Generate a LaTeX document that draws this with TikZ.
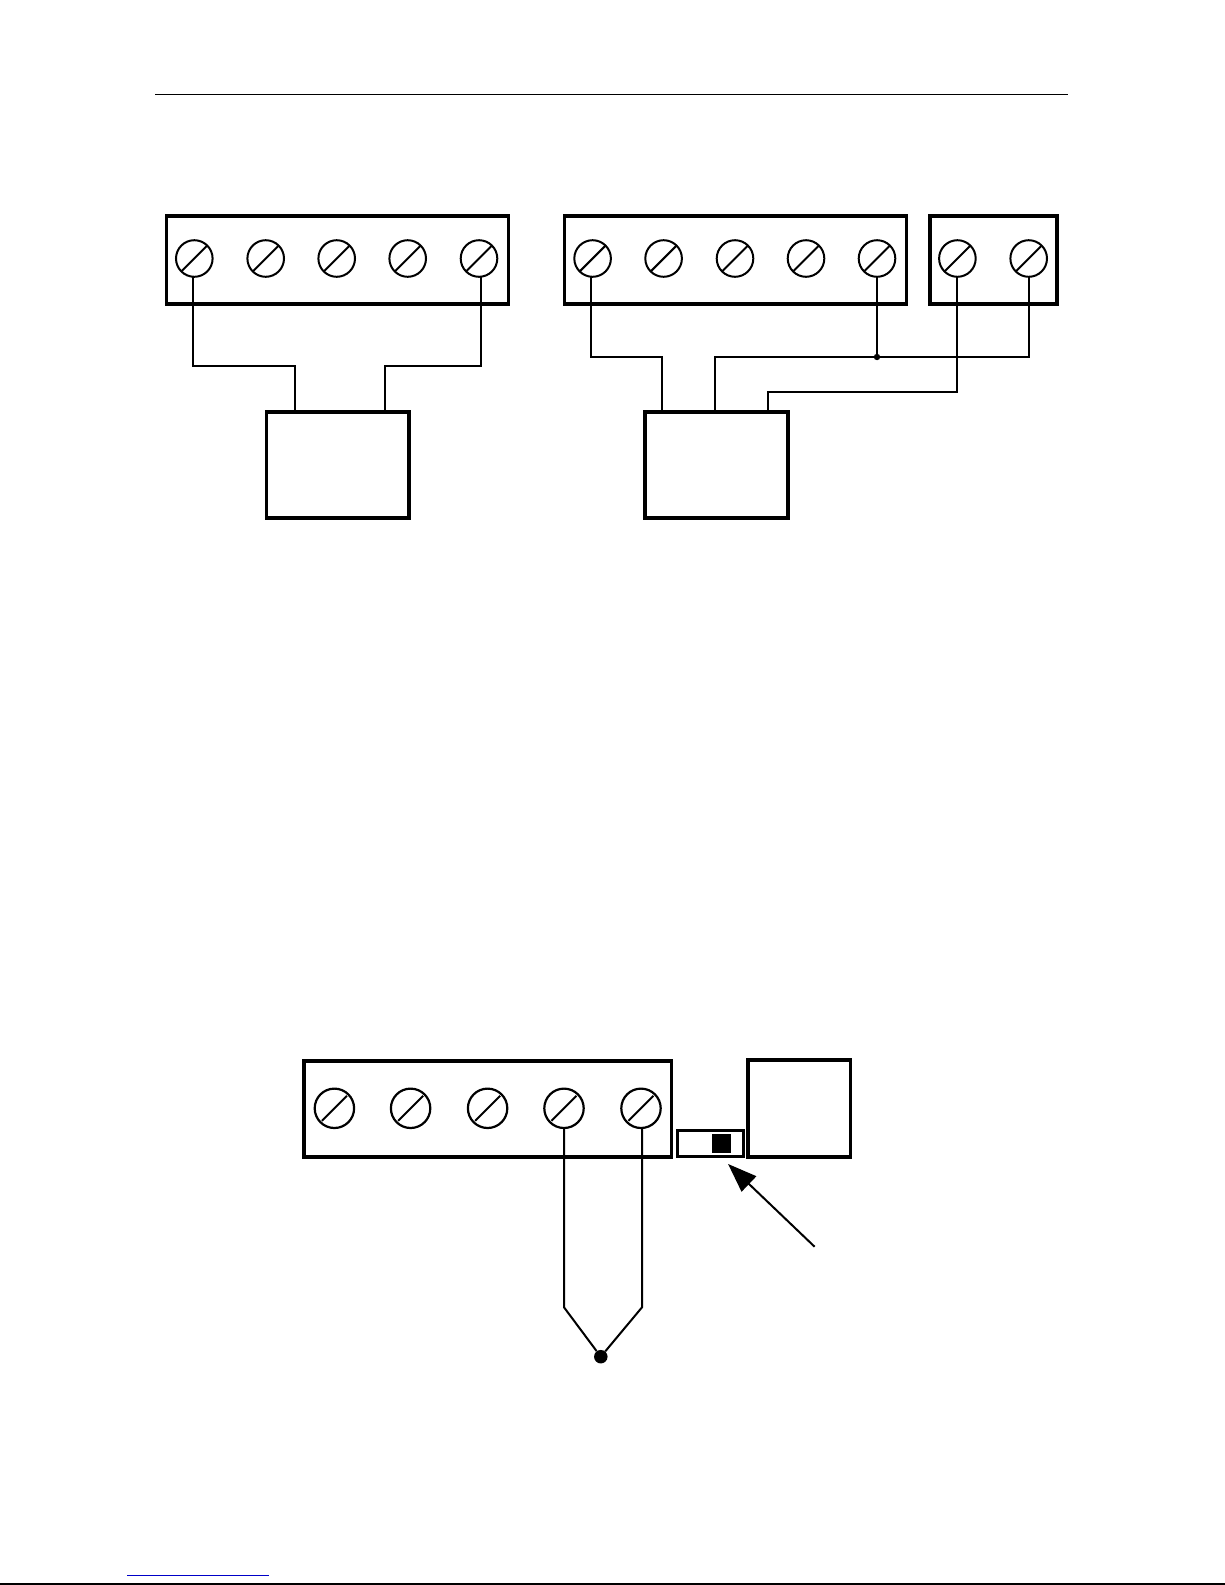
\documentclass[tikz,border=0pt]{standalone}
\usepackage{amsmath,amssymb}
\usetikzlibrary{arrows.meta}

\definecolor{linkblue}{RGB}{0,0,200}

\begin{document}
\begin{tikzpicture}
	[
	x=1pt, y=-1pt,
	block/.style={draw, line width=3.6pt, outer sep=0pt, inner sep=0pt, anchor=north west},
	screwbig/.style={draw, circle, line width=2pt, outer sep=0pt, inner sep=0pt, minimum size=36.6pt,
		path picture={\draw[line width=2pt] ([shift={(-12.5pt,-12.5pt)}]path picture bounding box.center) -- ([shift={(12.5pt,12.5pt)}]path picture bounding box.center);}},
	wire/.style={draw, line width=2pt},
	]
		\useasboundingbox (0,0) rectangle (1225,1585);
		
		% page rules
		\coordinate (hl) at (155,94.3);
		\coordinate (hr) at (1067.7,94.3);
		\coordinate (fl) at (127,1575.3);
		\coordinate (fr) at (269,1575.3);
		\coordinate (bl) at (0,1584.2);
		\coordinate (br) at (1225,1584.2);
		\draw[line width=1.3pt] (hl) -- (hr);
		\draw[line width=1.5pt, linkblue] (fl) -- (fr);
		\draw[line width=1.8pt] (bl) -- (br);
		
		% left-hand terminal
		\node[block, minimum width=342pt, minimum height=88.3pt] (ta) at (166.3,215.7) {};
		\foreach \name/\xpos in {a1/194.3,a2/265.7,a3/336.7,a4/407.7,a5/479}
			\node[screwbig] (\name) at (\xpos,258.5) {};
		\node[block, minimum width=142.7pt, minimum height=106.5pt] (ba) at (266.3,411.7) {};
		
		\coordinate (ja1) at (193,366);
		\coordinate (ja5) at (481,366);
		\coordinate (pa1) at (295,411);
		\coordinate (pa5) at (385,411);
		\draw[wire] ([xshift=-1.3pt]a1.south) -- (ja1) -| (pa1);
		\draw[wire] ([xshift=2pt]a5.south) -- (ja5) -| (pa5);
		
		% middle terminal
		\node[block, minimum width=342pt, minimum height=88.3pt] (tc) at (564.5,215.7) {};
		\node[block, minimum width=127pt, minimum height=88.3pt] (td) at (930,215.7) {};
		\foreach \name/\xpos in {c1/592.6,c2/663.6,c3/735,c4/806,c5/877,d1/957.4,d2/1028.7}
			\node[screwbig] (\name) at (\xpos,258.5) {};
		\node[block, minimum width=142.7pt, minimum height=106.5pt] (be) at (645,411.7) {};
		
		\coordinate (jc1) at (591,357);
		\coordinate (jd2) at (1029,357);
		\coordinate (jd1) at (957,392);
		\coordinate (pe1) at (662,411);
		\coordinate (pe2) at (715,411);
		\coordinate (pe3) at (768,411);
		\coordinate (node) at (877,357);
		\draw[wire] (jc1 |- c1.south) -- (jc1) -| (pe1);
		\draw[wire] (pe2) |- (jd2) -- (jd2 |- d2.south);
		\draw[wire] (c5.south) -- (node);
		\draw[wire] (jd1 |- d1.south) -- (jd1) -| (pe3);
		\fill (node) circle (3.2pt);
		
		% lower terminal
		\node[block, minimum width=367.6pt, minimum height=96pt] (tf) at (304,1060.7) {};
		\node[block, minimum width=102.2pt, minimum height=96.7pt] (bs) at (748.2,1060) {};
		\node[block, line width=3pt, minimum width=66.6pt, minimum height=26pt] (sw) at (677.2,1130.7) {};
		\node[fill, inner sep=0pt, outer sep=0pt, minimum width=19.3pt, minimum height=18.7pt, anchor=north west] (knob) at (711.7,1134) {};
		\foreach \name/\xpos in {f1/334.4,f2/410.6,f3/487.6,f4/564,f5/641}
			\node[screwbig, minimum size=39.4pt, line width=2.2pt] (\name) at (\xpos,1108.3) {};
		
		\coordinate (jf4) at (564,1307.3);
		\coordinate (jf5) at (642,1307.3);
		\node[fill, circle, inner sep=0pt, minimum size=13.5pt] (tip) at (600.8,1356.7) {};
		\coordinate (tail) at (814.6,1246.7);
		\coordinate (head) at (728.4,1164.3);
		\draw[wire] (f4.south) -- (jf4) -- (tip);
		\draw[wire] (jf5 |- f5.south) -- (jf5) -- (tip);
		\draw[wire, -{Triangle[length=29pt,width=21pt]}, shorten >=-0.5pt] (tail) -- (head);
		
	\end{tikzpicture}
\end{document}
